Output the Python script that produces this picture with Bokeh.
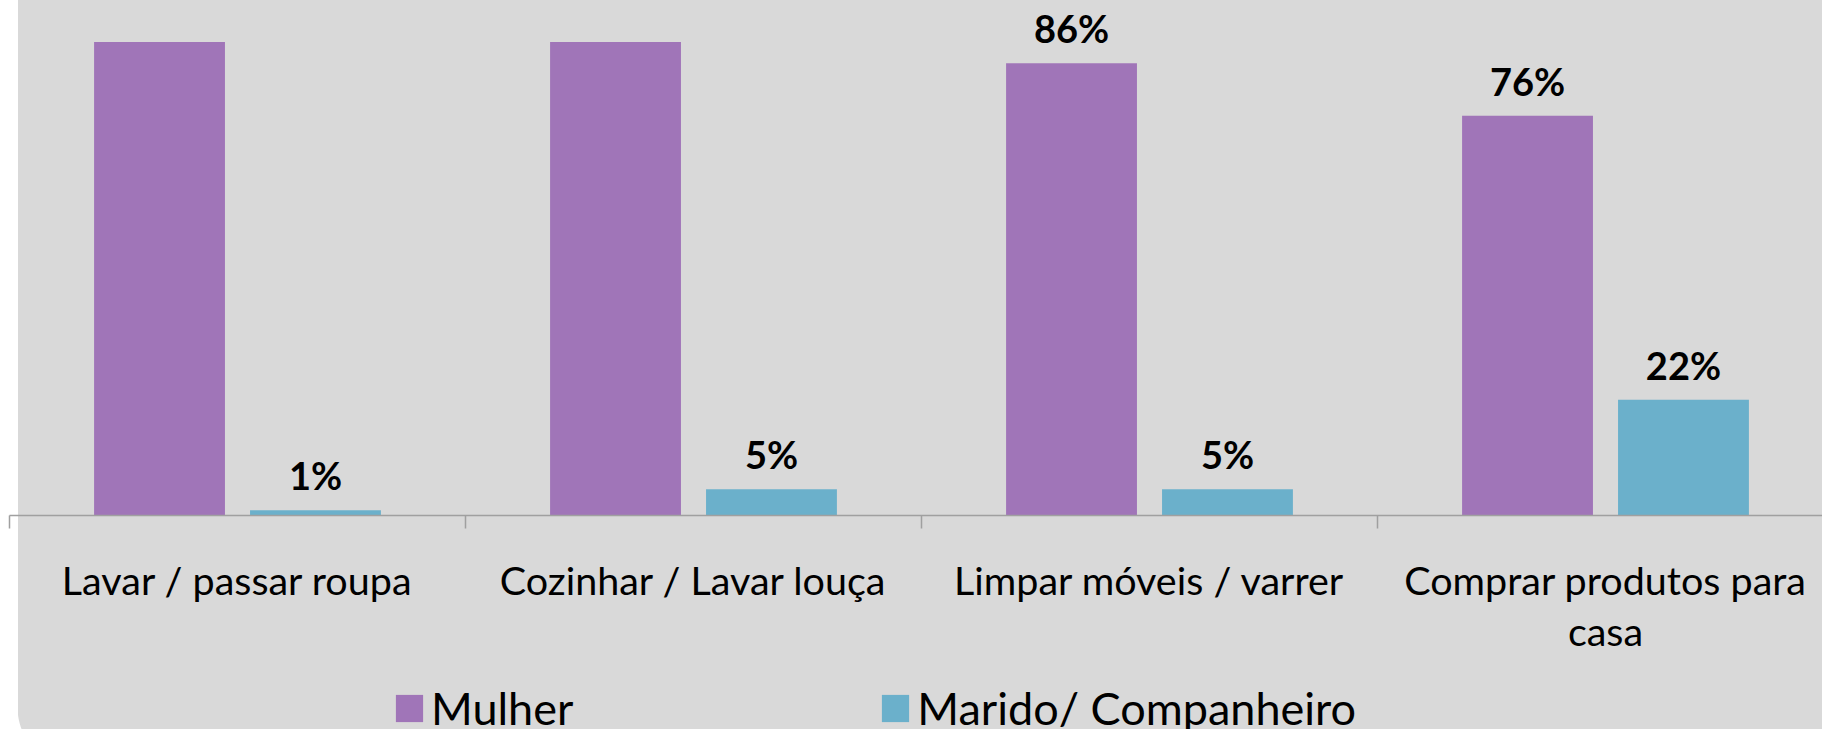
import numpy as np
from bokeh.plotting import figure
from bokeh.layouts import column
from bokeh.models import (Range1d, LinearAxis, FixedTicker, Legend, LegendItem,
                          ColumnDataSource)
from bokeh.core.properties import value
from bokeh.embed import file_html
from bokeh.resources import INLINE

# ---- data ----
categories = ["Lavar / passar roupa", "Cozinhar / Lavar louça",
              "Limpar móveis / varrer", "Comprar produtos para\ncasa"]
series_names = ["Mulher", "Marido/ Companheiro"]
mulher = [90, 90, 86, 76]
marido = [1, 5, 5, 22]
mulher_label_shown = [False, False, True, True]
marido_label_shown = [True, True, True, True]

# ---- styling / geometry ----
PURPLE = "#A075B8"
TEAL = "#6BB0CB"
BG = "#D9D9D9"
AXIS_COL = "#A0A0A0"
FONT = "Lato"

CAT_PX = 456          # pixels per category
LEFT = 9
TOTAL_W = 1822
FRAME_W = TOTAL_W - LEFT
FRAME_H = 515
TOTAL_H = 729
H1 = 670              # chart part (bars + axis)
H2 = TOTAL_H - H1     # legend strip
PX_PER_PCT = 5.26
BAR_W = 0.287
OFF = 0.171


def bg_style(corner_top):
    return {"background": (
        "radial-gradient(circle at 80px 0px, transparent 62px, #ffffff 63px) "
        f"0px {corner_top}px / 80px 22px no-repeat, "
        f"linear-gradient(to right, #ffffff 18px, {BG} 18px)")}


p = figure(frame_width=FRAME_W, frame_height=FRAME_H,
           output_backend="svg", toolbar_location=None,
           x_range=Range1d(0, FRAME_W / CAT_PX),
           y_range=Range1d(0, FRAME_H / PX_PER_PCT),
           x_axis_location=None, y_axis_location=None,
           min_border_left=LEFT, min_border_right=0, min_border_top=0,
           min_border_bottom=H1 - FRAME_H)
for g in p.grid:
    g.visible = False
p.outline_line_color = None
p.background_fill_color = None
p.border_fill_color = None
p.styles = bg_style(707 + 100)   # corner lies in the legend strip

xc = np.arange(len(categories)) + 0.5

src_m = ColumnDataSource(dict(
    x=xc - OFF, y=mulher,
    label=[f"{v}%" if s else "" for v, s in zip(mulher, mulher_label_shown)]))
src_h = ColumnDataSource(dict(
    x=xc + OFF, y=marido,
    label=[f"{v}%" if s else "" for v, s in zip(marido, marido_label_shown)]))

p.vbar(x="x", top="y", bottom=0, width=BAR_W, source=src_m,
       fill_color=PURPLE, line_color=None)
p.vbar(x="x", top="y", bottom=0, width=BAR_W, source=src_h,
       fill_color=TEAL, line_color=None)

for src in (src_m, src_h):
    p.text(x="x", y="y", text="label", source=src, y_offset=-35,
           text_align="center", text_baseline="middle",
           text_font=value(FONT), text_font_style="bold",
           text_font_size="38px", text_color="#000000")

xaxis = LinearAxis(
    ticker=FixedTicker(ticks=[float(v) for v in xc],
                       minor_ticks=list(range(len(categories) + 1))),
    major_label_overrides={float(v): c for v, c in zip(xc, categories)})
xaxis.axis_line_color = AXIS_COL
xaxis.axis_line_width = 1.5
xaxis.major_tick_out = 0
xaxis.major_tick_in = 0
xaxis.minor_tick_out = 13
xaxis.minor_tick_in = 0
xaxis.minor_tick_line_color = AXIS_COL
xaxis.minor_tick_line_width = 1.5
xaxis.major_label_text_font = FONT
xaxis.major_label_text_font_size = "39.5px"
xaxis.major_label_text_color = "#000000"
xaxis.major_label_standoff = 27
xaxis.major_label_text_line_height = 1.1
p.add_layout(xaxis, "below")

# ---- legend strip ----
p2 = figure(width=TOTAL_W, height=H2, output_backend="svg",
            toolbar_location=None, x_range=Range1d(0, 1), y_range=Range1d(0, 1),
            x_axis_location=None, y_axis_location=None,
            min_border_left=0, min_border_right=0, min_border_top=0,
            min_border_bottom=0)
for g in p2.grid:
    g.visible = False
p2.outline_line_color = None
p2.background_fill_color = None
p2.border_fill_color = None
p2.styles = bg_style(707 - H1)

# swatch renderers for the legend (kept outside the visible range)
l1 = p2.vbar(x=[5], top=[1], width=0.1, fill_color=PURPLE, line_color=None)
l2 = p2.vbar(x=[5], top=[1], width=0.1, fill_color=TEAL, line_color=None)

legend = Legend(items=[LegendItem(label=series_names[0], renderers=[l1]),
                       LegendItem(label=series_names[1], renderers=[l2])],
                orientation="horizontal", location=(383, -6),
                glyph_width=34, glyph_height=34, label_standoff=5,
                spacing=305, padding=0, margin=0,
                border_line_color=None, background_fill_alpha=0,
                label_text_font=FONT, label_text_font_size="45px",
                label_text_color="#000000")
p2.add_layout(legend)

layout = column(p, p2, spacing=0)
open("out.html", "w").write(file_html(layout, INLINE))
